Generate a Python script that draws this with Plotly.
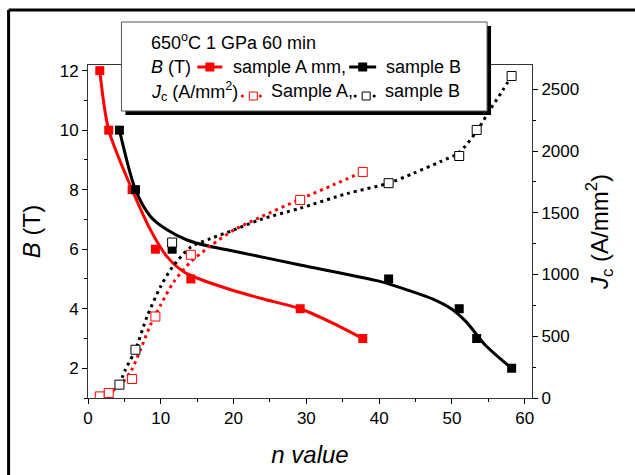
import plotly.graph_objects as go

# ---------------- data ----------------
# Sample A
nA = [1.62, 2.85, 6.06, 9.26, 14.13, 29.15, 37.75]
B_A = [12, 10, 8, 6, 5, 4, 3]
Jc_A = [13, 40, 154, 660, 1160, 1604, 1831]
# Sample B
nB = [4.32, 6.52, 11.56, 41.3, 51.0, 53.4, 58.2]
B_B = [10, 8, 6, 5, 4, 3, 2]
Jc_B = [108, 391, 1259, 1740, 1960, 2171, 2608]

# fitted curves as drawn in the reference
fitA_n = [1.62, 2.85, 6.06, 8.58, 10.86, 13.1, 15.4, 19.1, 23.7, 29.15, 33.7, 37.75]
fitA_B = [12, 10, 8, 6.65, 5.75, 5.25, 4.99, 4.68, 4.35, 4.0, 3.51, 3.0]
fitB_n = [4.32, 6.52, 8.58, 10.86, 13.6, 16.8, 19.1, 29.15, 40.1, 44.0, 47.4, 50.0, 52.0, 54.5, 58.2]
fitB_B = [10, 8, 7.1, 6.65, 6.31, 6.09, 5.98, 5.47, 4.92, 4.62, 4.32, 3.98, 3.55, 2.8, 2.0]
fitJA_n = [1.62, 2.85, 4.5, 6.0, 7.2, 8.57, 9.95, 11.77, 14.06, 16.8, 20.0, 23.5, 29.15, 33.7, 37.75]
fitJA_J = [13, 40, 110, 229, 391, 590, 750, 940, 1100, 1230, 1360, 1460, 1610, 1726, 1831]
fitJB_n = [4.32, 5.14, 6.52, 8.12, 9.95, 11.6, 14.06, 16.8, 20.0, 23.66, 29.15, 35.55, 41.3, 44.7, 48.4, 51.0, 53.4, 55.2, 57.0, 58.2]
fitJB_J = [108, 229, 391, 660, 900, 1060, 1220, 1290, 1360, 1445, 1537, 1655, 1740, 1820, 1914, 1990, 2160, 2332, 2494, 2608]

x_range = [0, 61]
yB_range = [1, 12.19]
yJ_range = [0, 2697]

# ---------------- figure geometry ----------------
W, H = 635, 475
L, R, T, Bt = 87.5, 532, 65, 398


def px(x):
    return (x - L) / (R - L)


def py(y):
    return (Bt - y) / (Bt - T)


FONT = "Liberation Sans, Arial, sans-serif"
RED = "#ff0000"
BLK = "#000000"

fig = go.Figure()

fig.add_trace(go.Scatter(x=fitA_n, y=fitA_B, mode="lines",
                         line=dict(color=RED, width=3, shape="spline", smoothing=0.8),
                         showlegend=False, hoverinfo="skip"))
fig.add_trace(go.Scatter(x=fitB_n, y=fitB_B, mode="lines",
                         line=dict(color=BLK, width=3, shape="spline", smoothing=0.8),
                         showlegend=False, hoverinfo="skip"))
fig.add_trace(go.Scatter(x=nA, y=B_A, mode="markers",
                         marker=dict(symbol="square", size=9, color=RED),
                         showlegend=False))
fig.add_trace(go.Scatter(x=nB, y=B_B, mode="markers",
                         marker=dict(symbol="square", size=9, color=BLK),
                         showlegend=False))

fig.add_trace(go.Scatter(x=fitJA_n, y=fitJA_J, mode="lines", yaxis="y2",
                         line=dict(color=RED, width=3, dash="3px,4px", shape="spline", smoothing=0.8),
                         showlegend=False, hoverinfo="skip"))
fig.add_trace(go.Scatter(x=fitJB_n, y=fitJB_J, mode="lines", yaxis="y2",
                         line=dict(color=BLK, width=3, dash="3px,4px", shape="spline", smoothing=0.8),
                         showlegend=False, hoverinfo="skip"))
fig.add_trace(go.Scatter(x=nA, y=Jc_A, mode="markers", yaxis="y2",
                         marker=dict(symbol="square", size=9, color="white",
                                     line=dict(color=RED, width=1)),
                         showlegend=False))
fig.add_trace(go.Scatter(x=nB, y=Jc_B, mode="markers", yaxis="y2",
                         marker=dict(symbol="square", size=9, color="white",
                                     line=dict(color=BLK, width=1)),
                         showlegend=False))

axis_common = dict(showgrid=False, zeroline=False, showline=True, linecolor="#333",
                   linewidth=1, ticks="outside", ticklen=5, tickcolor="#000", automargin=False,
                   tickfont=dict(family=FONT, size=17, color="#000"))

fig.update_layout(
    width=W, height=H, autosize=False,
    margin=dict(l=L, r=W - R, t=T, b=H - Bt, pad=0),
    paper_bgcolor="white", plot_bgcolor="white",
    font=dict(family=FONT, color="#000"),
    showlegend=False,
    xaxis=dict(range=x_range, tick0=0, dtick=10, mirror=True,
               minor=dict(dtick=5, ticks="outside", ticklen=3, tickcolor="#000"),
               title=dict(text="<i>n value</i>", font=dict(family=FONT, size=24), standoff=18),
               **axis_common),
    yaxis=dict(range=yB_range, tick0=0, dtick=2,
               minor=dict(dtick=1, ticks="outside", ticklen=3, tickcolor="#000"),
               title=dict(text="<i>B</i> (T)", font=dict(family=FONT, size=24), standoff=12),
               **axis_common),
    yaxis2=dict(range=yJ_range, tick0=0, dtick=500, overlaying="y", side="right",
                minor=dict(dtick=250, ticks="outside", ticklen=3, tickcolor="#000"),
                title=dict(text="<i>J</i><sub>c</sub> (A/mm<sup>2</sup>)",
                           font=dict(family=FONT, size=24), standoff=12),
                **axis_common),
)

shapes = []
# outer frame (top and left)
shapes.append(dict(type="line", xref="paper", yref="paper", x0=px(8), x1=px(640), y0=py(10), y1=py(10),
                   line=dict(color="#000", width=3)))
shapes.append(dict(type="line", xref="paper", yref="paper", x0=px(8), x1=px(8), y0=py(10), y1=py(480),
                   line=dict(color="#000", width=3)))
# legend box with shadow
shapes.append(dict(type="rect", xref="paper", yref="paper", x0=px(125), x1=px(491), y0=py(115), y1=py(26),
                   fillcolor="#000", line=dict(width=0)))
shapes.append(dict(type="rect", xref="paper", yref="paper", x0=px(121), x1=px(487), y0=py(111), y1=py(22),
                   fillcolor="white", line=dict(color="#555", width=1)))
# legend symbols: B
for (x0, x1, xc, col) in [(197, 222, 209.5, RED), (349, 376, 362.5, BLK)]:
    shapes.append(dict(type="line", xref="paper", yref="paper", x0=px(x0), x1=px(x1), y0=py(67), y1=py(67),
                       line=dict(color=col, width=3)))
    shapes.append(dict(type="rect", xref="paper", yref="paper", x0=px(xc - 4.5), x1=px(xc + 4.5),
                       y0=py(71.5), y1=py(62.5), fillcolor=col, line=dict(width=0)))
# legend symbols: Jc
for (d1, d2, xc, col) in [(242, 260, 253, RED), (355, 374, 366, BLK)]:
    for d in (d1, d2):
        shapes.append(dict(type="circle", xref="paper", yref="paper", x0=px(d - 1.6), x1=px(d + 1.6),
                           y0=py(97.6), y1=py(94.4), fillcolor=col, line=dict(width=0)))
    shapes.append(dict(type="rect", xref="paper", yref="paper", x0=px(xc - 4), x1=px(xc + 4),
                       y0=py(100), y1=py(92), fillcolor="white", line=dict(color=col, width=1)))
fig.update_layout(shapes=shapes)

ann = []


def text(x, y, s):
    ann.append(dict(x=px(x), y=py(y), xref="paper", yref="paper", text=s, showarrow=False,
                    xanchor="left", yanchor="middle", font=dict(family=FONT, size=18, color="#000")))


text(149, 42, "650<sup>o</sup>C 1 GPa 60 min")
text(149, 67, "<i>B</i> (T)")
text(231, 67, "sample A mm,")
text(384, 67, "sample B")
text(149, 91, "<i>J</i><sub>c</sub> (A/mm<sup>2</sup>)")
text(269, 91, "Sample A,")
text(383, 91, "sample B")
fig.update_layout(annotations=ann)

fig.write_html("out.html")
